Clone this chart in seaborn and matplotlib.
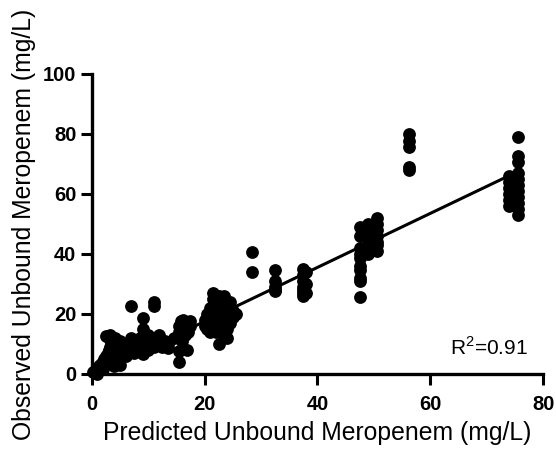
import matplotlib
matplotlib.use("Agg")
import matplotlib.pyplot as plt
import seaborn as sns
import numpy as np
import pandas as pd

# Predicted (x) and observed (y) unbound meropenem, mg/L
pred_low = [0.3,0.5,0.8,1.0,1.2,1.5,1.8,2.0,2.2,2.5,2.8,3.0,3.0,3.3,3.5,3.8,4.0,4.2,4.5,4.5,4.8,5.0,5.0,2.5,3.5,4.0,1.0,2.0,3.2]
obs_low  = [0.5,1.0,1.5,2.0,2.5,3.0,3.5,4.0,5.0,6.0,7.0,8.0,12.0,9.0,10.0,11.0,6.0,12.0,5.0,9.0,7.0,3.0,11.0,12.5,4.0,2.5,0.0,1.5,13.0]

pred_mid1 = [6,6.5,7,7,7.5,8,8,8.5,9,9,9.5,10,10,10.5,11,11,11,11.5,12,12,12.5,13,13.5,9,7,13.5]
obs_mid1  = [6,8,10,22.5,7,9,11,12,15,18.5,10,8,13,11,9,22.5,24,12,10,13,9,11,10,6.5,12,8.5]

pred_mid2 = [15.5,15.5,15.5,15.5,15.5,15.8,16.5,16.5,17,17.5,17.5,16,14.5,16.1,16.8]
obs_mid2  = [4,7.5,12,14,16,17.5,13,15,14,16,17.5,11,12,18,8]

pred_mid3 = [20,20,20.5,20.5,21,21,21,21.5,21.5,21.5,21.5,22,22,22,22,22.5,22.5,22.5,22.5,22.5,
             23,23,23,23,23.5,23.5,23.5,23.5,23.5,24,24,24,24.5,24.5,24.5,25,25,25.5,24,21]
obs_mid3  = [16,18,15,20,17,19,22,16,18,25,27,14,17,20,23,10,15,19,22,26,
             16,18,21,24,13,17,20,23,26,15,18,22,17,20,24,19,21,20,12,14]

pred_high1 = [28.4,28.4,32.5,32.5,32.5,32.5,32.5,37.5,37.5,37.5,37.5,37.5,37.5,37.5,38,38,38]
obs_high1  = [40.5,34,34.5,31,29,28,27.5,35,33,31,29,28,27,26,34,30,27]

pred_high2 = [47.5,47.5,47.5,47.5,47.5,47.5,47.5,47.5,47.5,47.5,49,49,49,49,49,
              50.5,50.5,50.5,50.5,50.5,50.5,50.5]
obs_high2  = [49,46,42,40,38.5,36,34.5,32,31,25.7,50,47,44.5,42,40,
              52,50,48,46,44,43,41]

pred_high3 = [56.3,56.3,56.3,56.3,56.3,74,74,74,74,74,74,
              75.5,75.5,75.5,75.5,75.5,75.5,75.5,75.5,75.5,75.5,75.5]
obs_high3  = [80,77.5,75.5,69,68,66,64,62,60,58,56,
              79,72.5,70.5,67,65,63,61,59,57,55,53]

# Regression line endpoints
fit_x = [0.5, 73.5]
fit_y = [-0.05, 65.65]

x_ticks = [0, 20, 40, 60, 80]
y_ticks = [0, 20, 40, 60, 80, 100]
r2_label = "R$^2$=0.91"

pred = pred_low + pred_mid1 + pred_mid2 + pred_mid3 + pred_high1 + pred_high2 + pred_high3
obs = obs_low + obs_mid1 + obs_mid2 + obs_mid3 + obs_high1 + obs_high2 + obs_high3
df = pd.DataFrame({"pred": pred, "obs": obs})
fit_df = pd.DataFrame({"x": fit_x, "y": fit_y})

sns.set_theme(style="ticks")
plt.rcParams['font.family'] = ['Liberation Sans', 'DejaVu Sans']
plt.rcParams['mathtext.fontset'] = 'custom'
plt.rcParams['mathtext.rm'] = 'Liberation Sans'
for k in ['text.color', 'axes.labelcolor', 'xtick.color', 'ytick.color', 'axes.edgecolor']:
    plt.rcParams[k] = 'black'

fig = plt.figure(figsize=(5.56, 4.5), dpi=100)
ax = fig.add_axes([0.165, 0.169, 0.812, 0.667])

sns.lineplot(data=fit_df, x="x", y="y", color="black", linewidth=2.2, ax=ax, zorder=2)
sns.scatterplot(data=df, x="pred", y="obs", color="black", s=85, edgecolor="black",
                linewidth=0, ax=ax, zorder=3, clip_on=False)

ax.set_xlim(0, 80)
ax.set_ylim(0, 100)
ax.set_xticks(x_ticks)
ax.set_yticks(y_ticks)
ax.set_xticklabels([str(t) for t in x_ticks], fontsize=14.5, fontweight="bold")
ax.set_yticklabels([str(t) for t in y_ticks], fontsize=14.5, fontweight="bold")
ax.tick_params(axis="both", direction="out", length=8, width=2.2, color="black")
ax.tick_params(axis="x", pad=7)
ax.tick_params(axis="y", pad=3)
for side in ["top", "right"]:
    ax.spines[side].set_visible(False)
for side in ["left", "bottom"]:
    ax.spines[side].set_linewidth(2.4)
    ax.spines[side].set_color("black")

ax.set_xlabel("Predicted Unbound Meropenem (mg/L)", fontsize=17.8, labelpad=5)
ax.set_ylabel("Observed Unbound Meropenem (mg/L)", fontsize=17.8, labelpad=5)

ax.text(0.967, 0.063, r2_label, transform=ax.transAxes, ha="right", va="baseline", fontsize=15)

fig.savefig("out.png", dpi=100)
